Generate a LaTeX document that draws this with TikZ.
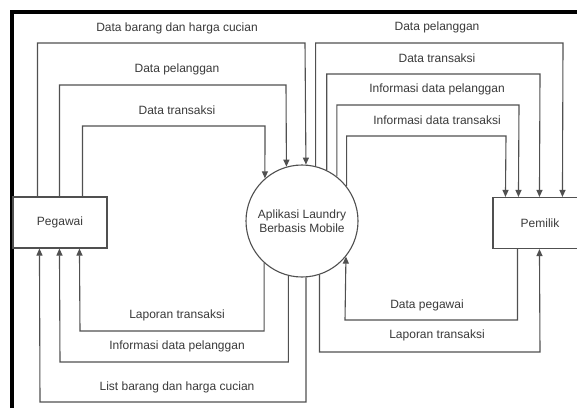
\documentclass[tikz,border=0pt]{standalone}
\usepackage{fontspec}
\setmainfont{Liberation Sans}
\usetikzlibrary{arrows.meta}
\definecolor{ln}{HTML}{505050}
\definecolor{tx}{HTML}{3A3A3A}
\begin{document}
\begin{tikzpicture}[x=1pt,y=-1pt,
  flow/.style={draw=ln,line width=1.1pt,-{Triangle[length=7pt,width=6pt]}},
  lab/.style={text=tx,font=\fontsize{12}{14}\selectfont,inner sep=0pt},
  ent/.style={draw=ln,line width=1.1pt,rectangle,minimum width=94pt,minimum height=51pt,inner sep=0pt,text=tx,font=\fontsize{12}{14}\selectfont},
  proc/.style={draw=ln,line width=1.1pt,circle,minimum size=112pt,inner sep=0pt,text=tx,font=\fontsize{12}{14}\selectfont,align=center}]
\useasboundingbox (0,0) rectangle (577,408);
\clip (0,0) rectangle (577,408);
\fill[white] (0,0) rectangle (577,408);
% frame
\draw[black,line width=3.5pt] (12,408) -- (12,12) -- (580,12);

\node[ent] (peg) at (60,222.5) {Pegawai};
\node[ent] (pem) at (540,223) {Pemilik};
\node[proc] (app) at (302,221) {Aplikasi Laundry\\Berbasis Mobile};

% Pegawai -> App
\draw[flow] ([xshift=25pt]peg.north west) |- (305,43) -- (app.86.93);
\draw[flow] ([xshift=47pt]peg.north west) |- (286,85) -- (app.106.6);
\draw[flow] ([xshift=70pt]peg.north west) |- (265,126) -- (app.131.35);
\node[lab] (l1) at (177,28) {Data barang dan harga cucian};
\node[lab] (l2) at (177,69) {Data pelanggan};
\node[lab] (l3) at (177,110) {Data transaksi};

% App -> Pegawai
\draw[flow] (app.-132.7) |- (80,331) -- ([xshift=67pt]peg.south west);
\draw[flow] (app.-104.48) |- (60,362) -- ([xshift=47pt]peg.south west);
\draw[flow] (app.-86.93) |- (40,402) -- ([xshift=27pt]peg.south west);
\node[lab] (l4) at (177,315) {Laporan transaksi};
\node[lab] (l5) at (177,346) {Informasi data pelanggan};
\node[lab] (l6) at (177,387) {List barang dan harga cucian};

% App -> Pemilik
\draw[flow] (app.76.58) |- (563,43) -- ([xshift=70pt]pem.north west);
\draw[flow] (app.64.62) |- (540,74) -- ([xshift=47pt]pem.north west);
\draw[flow] (app.52.62) |- (519,105) -- ([xshift=26pt]pem.north west);
\draw[flow] (app.38.21) |- (506,136) -- ([xshift=13pt]pem.north west);
\node[lab] (r1) at (437,27) {Data pelanggan};
\node[lab] (r2) at (437,58) {Data transaksi};
\node[lab] (r3) at (437,89) {Informasi data pelanggan};
\node[lab] (r4) at (437,120) {Informasi data transaksi};

% Pemilik <-> App
\draw[flow] ([xshift=25pt]pem.south west) |- (345,320) -- (app.-39.83);
\draw[flow] (app.-72.33) |- (540,352) -- ([xshift=47pt]pem.south west);
\node[lab] (r5) at (427,305) {Data pegawai};
\node[lab] (r6) at (437,335) {Laporan transaksi};
\end{tikzpicture}
\end{document}
